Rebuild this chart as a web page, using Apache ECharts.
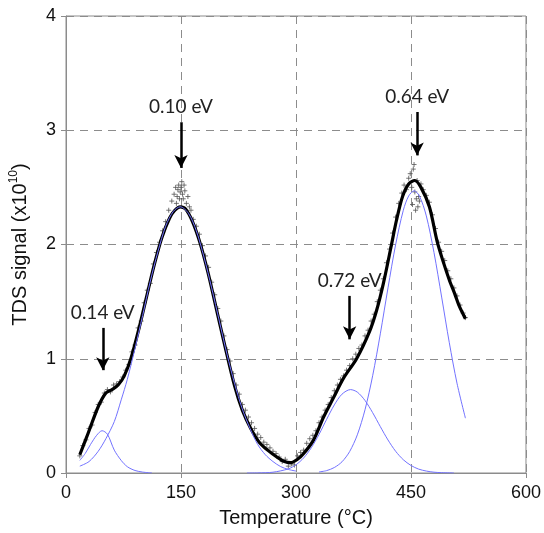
<!DOCTYPE html>
<html><head><meta charset="utf-8">
<script src="https://cdn.jsdelivr.net/npm/echarts@6/dist/echarts.min.js"></script>
<style>html,body{margin:0;padding:0;background:#fff}#c{width:544px;height:533px}</style>
</head><body><div id="c"></div>
<script>
// axis ticks
const xTicks = [0, 150, 300, 450, 600];
const yTicks = [0, 1, 2, 3, 4];

// measured TDS points [T (°C), signal x1e10]
const measured = [[18,0.15],[22,0.24],[26,0.29],[30,0.39],[34,0.42],[38,0.53],[42,0.60],[46,0.62],[50,0.70],[54,0.73],[58,0.71],[62,0.77],[66,0.78],[70,0.80],[74,0.84],[78,0.90],[82,0.95],[86,1.06],[90,1.12],[94,1.27],[98,1.33],[102,1.49],[106,1.60],[110,1.66],[114,1.83],[118,1.93],[122,2.02],[126,2.12],[130,2.20],[134,2.30],[138,2.38],[141,2.44],[143,2.50],[144,2.36],[145,2.42],[146,2.48],[147,2.52],[148,2.40],[149,2.46],[150,2.50],[151,2.55],[152,2.44],[153,2.40],[154,2.52],[155,2.47],[157,2.36],[159,2.42],[161,2.33],[163,2.30],[166,2.22],[170,2.16],[174,2.09],[178,1.99],[182,1.90],[186,1.80],[190,1.67],[194,1.56],[198,1.44],[202,1.33],[206,1.20],[210,1.08],[214,0.98],[218,0.87],[222,0.77],[226,0.69],[230,0.60],[234,0.55],[238,0.49],[242,0.44],[246,0.39],[250,0.34],[254,0.31],[258,0.27],[262,0.25],[266,0.22],[270,0.19],[274,0.17],[278,0.14],[282,0.10],[286,0.12],[290,0.06],[294,0.08],[298,0.07],[302,0.15],[306,0.18],[310,0.20],[314,0.26],[318,0.30],[322,0.33],[326,0.37],[330,0.44],[334,0.49],[338,0.55],[342,0.60],[346,0.66],[350,0.72],[354,0.77],[358,0.82],[362,0.85],[366,0.90],[370,0.94],[374,1.00],[378,1.04],[382,1.09],[386,1.12],[390,1.20],[394,1.25],[398,1.33],[402,1.39],[406,1.50],[410,1.60],[414,1.70],[418,1.84],[422,1.96],[426,2.10],[430,2.24],[434,2.36],[438,2.45],[441,2.52],[444,2.48],[447,2.58],[449,2.62],[451,2.50],[452,2.35],[453,2.66],[454,2.70],[455,2.46],[456,2.30],[457,2.40],[458,2.56],[459,2.33],[460,2.42],[461,2.38],[463,2.53],[466,2.48],[470,2.43],[474,2.37],[478,2.26],[482,2.14],[486,2.02],[490,1.94],[494,1.86],[498,1.77],[502,1.70],[506,1.62],[510,1.55],[514,1.47],[518,1.40],[521,1.36]];

// overall fit (black)
const fitCurve = [[18,0.16],[29,0.35],[42,0.58],[52,0.70],[60,0.73],[68,0.77],[76,0.85],[85,1.01],[95,1.26],[105,1.54],[115,1.82],[125,2.06],[135,2.23],[142,2.30],[149,2.33],[156,2.31],[165,2.20],[175,2.01],[185,1.76],[195,1.47],[207,1.12],[220,0.76],[230,0.55],[241,0.39],[252,0.27],[263,0.20],[275,0.14],[285,0.10],[293,0.09],[302,0.12],[310,0.17],[323,0.29],[336,0.49],[349,0.66],[362,0.83],[379,1.00],[396,1.24],[405,1.42],[414,1.66],[424,1.98],[431,2.21],[439,2.42],[447,2.53],[455,2.56],[463,2.50],[474,2.33],[484,2.03],[492,1.85],[500,1.69],[507,1.57],[513,1.46],[521,1.35]];

// component peaks (blue)
const peak014 = [[18,0.11],[25,0.17],[32,0.25],[40,0.33],[47,0.37],[54,0.34],[63,0.20],[72,0.11],[80,0.055],[90,0.022],[100,0.008],[112,0]];
const peak010 = [[18,0.06],[30,0.10],[42,0.19],[52,0.30],[63,0.45],[72,0.64],[80,0.82],[90,1.09],[100,1.38],[110,1.68],[120,1.94],[130,2.16],[140,2.29],[149,2.33],[160,2.27],[170,2.12],[180,1.89],[190,1.62],[200,1.33],[210,1.04],[220,0.78],[230,0.56],[240,0.39],[250,0.25],[260,0.16],[270,0.10],[280,0.056],[290,0.031],[300,0.017]];
const peak072 = [[236,0],[250,0.001],[270,0.007],[290,0.036],[300,0.072],[310,0.132],[320,0.221],[330,0.337],[340,0.47],[350,0.596],[360,0.69],[371,0.73],[380,0.708],[390,0.635],[400,0.528],[410,0.406],[420,0.289],[430,0.19],[440,0.116],[450,0.066],[460,0.034],[470,0.017],[480,0.007],[490,0.003],[506,0]];
const peak064 = [[330,0.009],[340,0.021],[350,0.048],[360,0.098],[370,0.188],[380,0.334],[390,0.553],[400,0.851],[410,1.218],[420,1.62],[430,2.0],[440,2.30],[447,2.425],[454,2.47],[461,2.425],[470,2.25],[480,1.93],[490,1.54],[500,1.14],[510,0.786],[521,0.48]];

// annotations
const peakLabels = ['0.14 eV', '0.10 eV', '0.72 eV', '0.64 eV'];
const peakT = [48, 150, 370, 458];
const arrowTop = [1.27, 3.07, 1.55, 3.16];
const arrowTip = [0.90, 2.67, 1.17, 2.78];

const axisGray = '#8c8c8c';
const blue = '#7272ff';
const chart = echarts.init(document.getElementById('c'), null, {renderer: 'canvas'});

function comp(data) {
  return {type: 'line', data: data, smooth: 0.3, showSymbol: false, symbol: 'none',
    lineStyle: {color: blue, width: 1}, z: 4, silent: true};
}

chart.setOption({
  animation: false,
  grid: {left: 63, right: 16, top: 16, bottom: 53, show: true, borderColor: axisGray, borderWidth: 1},
  xAxis: {
    type: 'value', min: xTicks[0], max: xTicks[xTicks.length - 1], interval: xTicks[1] - xTicks[0],
    axisLine: {lineStyle: {color: axisGray}},
    axisTick: {show: true, length: 5, lineStyle: {color: axisGray}},
    axisLabel: {fontSize: 18, color: '#111', fontFamily: 'Liberation Sans', margin: 11},
    splitLine: {show: true, lineStyle: {type: [8, 6], color: axisGray}},
    name: 'Temperature (°C)', nameLocation: 'middle', nameGap: 35,
    nameTextStyle: {fontSize: 20, color: '#111', fontFamily: 'Liberation Sans'}
  },
  yAxis: {
    type: 'value', min: yTicks[0], max: yTicks[yTicks.length - 1], interval: yTicks[1] - yTicks[0],
    axisLine: {show: true, lineStyle: {color: axisGray}},
    axisTick: {show: true, length: 5, lineStyle: {color: axisGray}},
    axisLabel: {fontSize: 18, color: '#111', fontFamily: 'Liberation Sans', margin: 10},
    splitLine: {show: true, lineStyle: {type: [8, 6], color: axisGray}},
    name: '{a|TDS signal (x10}{s|10}{a|)}', nameLocation: 'middle', nameGap: 34,
    nameTextStyle: {color: '#111', fontFamily: 'Liberation Sans',
      rich: {a: {fontSize: 20, color: '#111', fontFamily: 'Liberation Sans', lineHeight: 24},
             s: {fontSize: 12, color: '#111', fontFamily: 'Liberation Sans', verticalAlign: 'top', lineHeight: 24, padding: [0, 0, 8, 0]}}}
  },
  series: [
    {type: 'scatter', data: measured, symbol: 'path://M3,0L3,6M0,3L6,3', symbolSize: 5,
      itemStyle: {color: 'rgba(0,0,0,0)', borderColor: '#555', borderWidth: 1}, z: 1, silent: true},
    {type: 'line', data: fitCurve, smooth: 0.3, showSymbol: false, symbol: 'none',
      lineStyle: {color: '#000', width: 3.2}, z: 3, silent: true,
      markLine: {silent: true, symbol: ['none', 'arrow'], symbolSize: [10, 13], animation: false,
        lineStyle: {color: '#000', width: 2.5, type: 'solid'},
        label: {show: true, position: 'start', distance: 6, fontSize: 19, fontFamily: 'Lato', color: '#222', formatter: '{b}'},
        data: peakLabels.map((n, i) => [{coord: [peakT[i], arrowTop[i]], name: n}, {coord: [peakT[i], arrowTip[i]]}])}},
    comp(peak014), comp(peak010), comp(peak072), comp(peak064)
  ]
});
</script></body></html>
